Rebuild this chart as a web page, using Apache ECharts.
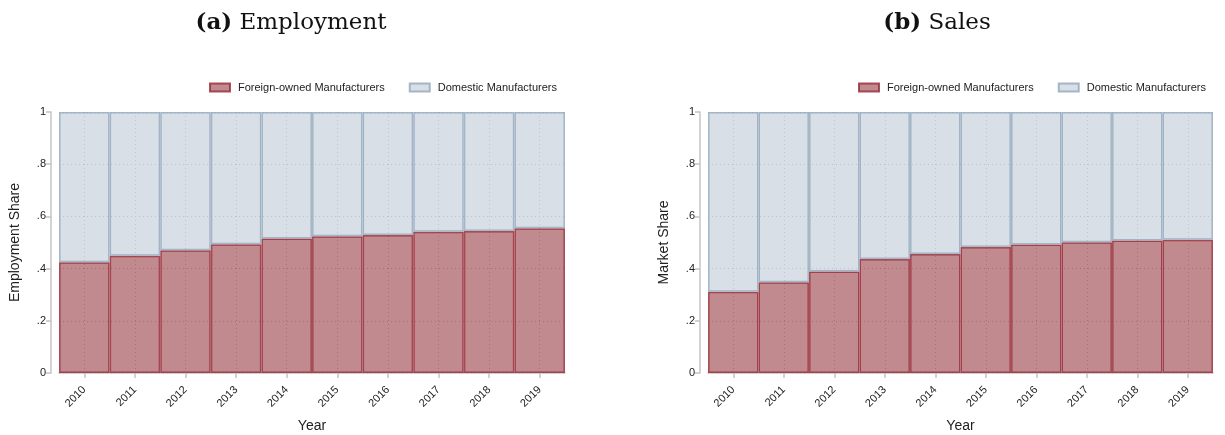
<!DOCTYPE html>
<html><head><meta charset="utf-8">
<script src="https://cdn.jsdelivr.net/npm/echarts@6/dist/echarts.min.js"></script>
<style>html,body{margin:0;padding:0;background:#fff}#c{width:1225px;height:435px}</style>
</head><body><div id="c"></div>
<script>
const years = ['2010','2011','2012','2013','2014','2015','2016','2017','2018','2019'];
const empForeign  = [0.424,0.449,0.470,0.493,0.515,0.524,0.529,0.541,0.544,0.555];
const empDomestic = [0.576,0.551,0.530,0.507,0.485,0.476,0.471,0.459,0.456,0.445];
const salesForeign  = [0.311,0.348,0.389,0.437,0.456,0.483,0.492,0.501,0.508,0.511];
const salesDomestic = [0.689,0.652,0.611,0.563,0.544,0.517,0.508,0.499,0.492,0.489];
const yTicks = ['0','.2','.4','.6','.8','1'];
const nameForeign = 'Foreign-owned Manufacturers';
const nameDomestic = 'Domestic Manufacturers';

const fStyle = {color:'rgba(130,22,30,0.5)', borderColor:'rgba(150,40,52,0.8)', borderWidth:1.5};
const dStyle = {color:'rgba(178,192,208,0.5)', borderColor:'rgba(140,162,184,0.75)', borderWidth:1.5};
const gridLine = {show:true, lineStyle:{color:'#c8c8c8', type:[1,3], width:1}};
const axLine = {show:true, lineStyle:{color:'#c4c4c4', width:1.5}};

function xAx(i){
  return {type:'category', gridIndex:i, data:years, boundaryGap:true, offset:9,
    axisLine:axLine, axisTick:{show:true, alignWithLabel:true, length:5, lineStyle:{color:'#c4c4c4', width:1.5}},
    splitLine:Object.assign({alignWithLabel:true}, gridLine),
    axisLabel:{rotate:45, fontSize:11, color:'#222', fontFamily:'Liberation Sans', margin:6},
    name:'Year', nameLocation:'middle', nameGap:37,
    nameTextStyle:{fontSize:14, color:'#222', fontFamily:'Liberation Sans'}};
}
function yAx(i, name){
  return {type:'value', gridIndex:i, min:0, max:1, interval:0.2, offset:8,
    axisLine:axLine, axisTick:{show:true, length:5, lineStyle:{color:'#c4c4c4', width:1.5}},
    splitLine:gridLine,
    axisLabel:{fontSize:11, color:'#222', fontFamily:'Liberation Sans', margin:5,
      formatter:(v)=>yTicks[Math.round(v*5)]},
    name:name, nameLocation:'middle', nameGap:29,
    nameTextStyle:{fontSize:14, color:'#222', fontFamily:'Liberation Sans'}};
}
function bar(name, data, style, i, stack){
  return {type:'bar', name:name, data:data, xAxisIndex:i, yAxisIndex:i, stack:stack,
    barWidth:'100%', barCategoryGap:'0%', itemStyle:style, emphasis:{disabled:true}};
}
const legendBase = {data:[nameForeign, nameDomestic], icon:'rect', itemWidth:20, itemHeight:8, itemGap:24,
  top:82, padding:0,
  textStyle:{fontSize:11, color:'#222', fontFamily:'Liberation Sans', padding:[0,0,0,3]}};
const titleStyle = {fontSize:23, fontWeight:'normal', color:'#111', fontFamily:'DejaVu Serif',
  rich:{b:{fontSize:23, fontWeight:'bold', fontFamily:'DejaVu Serif', color:'#111'}}};

const chart = echarts.init(document.getElementById('c'), null, {renderer:'canvas'});
chart.setOption({
  animation:false,
  title:[
    {text:'{b|(a)} Employment', left:286, textAlign:'center', top:7, textStyle:titleStyle},
    {text:'{b|(b)} Sales', left:932, textAlign:'center', top:7, textStyle:titleStyle}
  ],
  legend:[Object.assign({left:209}, legendBase), Object.assign({left:858}, legendBase)],
  grid:[
    {left:59, right:660, top:112, bottom:62, outerBoundsMode:'none', containLabel:false},
    {left:708, right:12, top:112, bottom:62, outerBoundsMode:'none', containLabel:false}
  ],
  xAxis:[xAx(0), xAx(1)],
  yAxis:[yAx(0,'Employment Share'), yAx(1,'Market Share')],
  series:[
    bar(nameForeign, empForeign, fStyle, 0, 'e'),
    bar(nameDomestic, empDomestic, dStyle, 0, 'e'),
    bar(nameForeign, salesForeign, fStyle, 1, 's'),
    bar(nameDomestic, salesDomestic, dStyle, 1, 's')
  ]
});
</script></body></html>
